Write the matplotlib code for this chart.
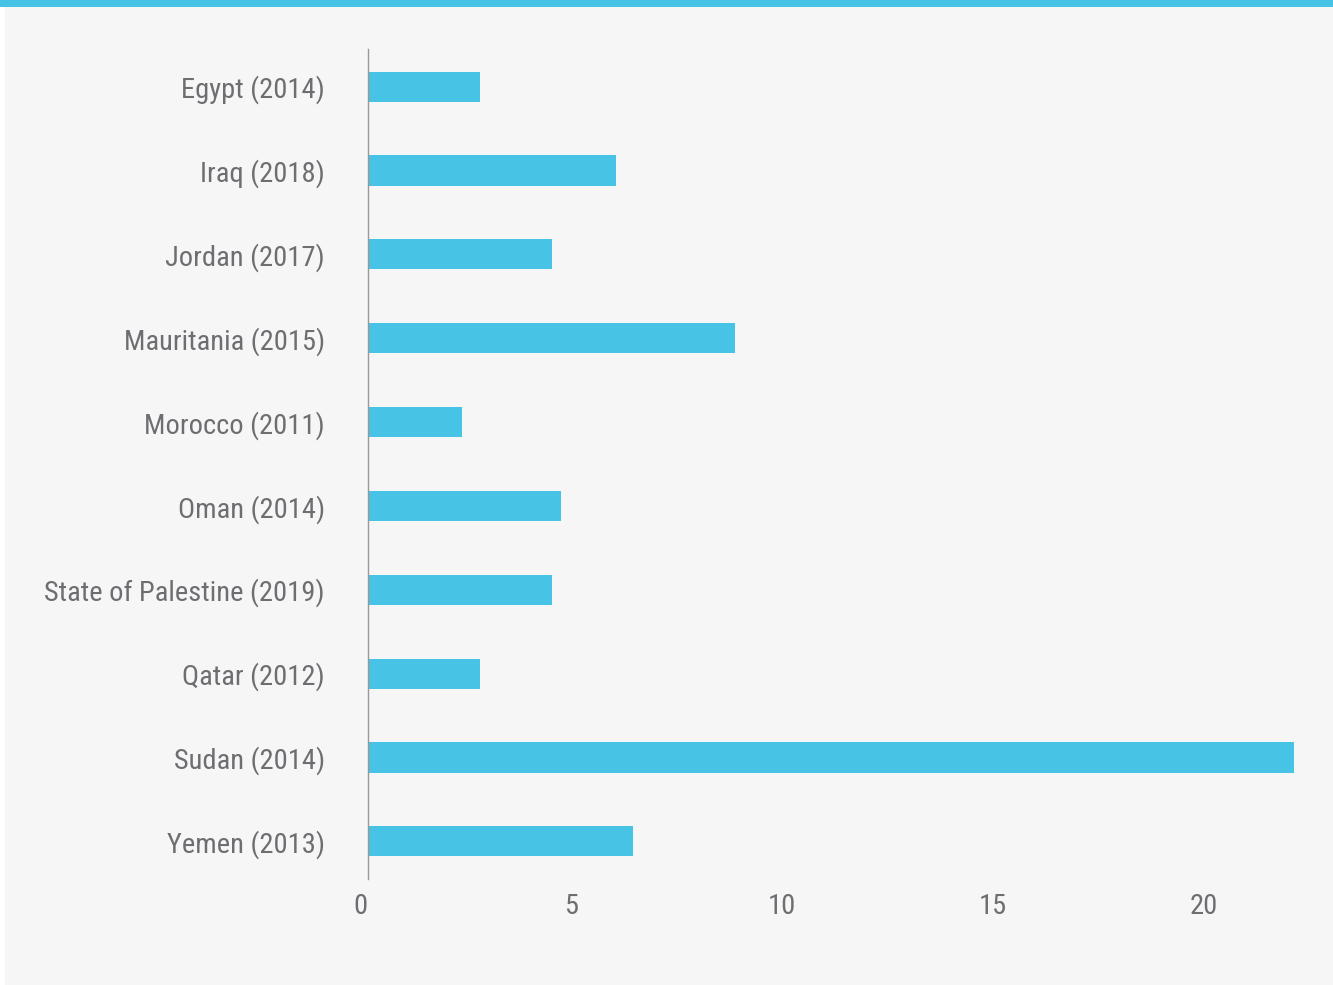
import matplotlib.pyplot as plt
import matplotlib.transforms as mtransforms
from matplotlib.patches import Rectangle

# survey results by country (year)
countries = ["Egypt (2014)", "Iraq (2018)", "Jordan (2017)", "Mauritania (2015)",
             "Morocco (2011)", "Oman (2014)", "State of Palestine (2019)",
             "Qatar (2012)", "Sudan (2014)", "Yemen (2013)"]
values = [2.65, 5.88, 4.36, 8.7, 2.23, 4.57, 4.36, 2.65, 21.94, 6.28]
xticks = [0, 5, 10, 15, 20]

plt.rcParams['font.family'] = ['Roboto Condensed', 'Roboto', 'DejaVu Sans']
plt.rcParams['font.stretch'] = 'condensed'

W, H = 1333, 985
fig = plt.figure(figsize=(W / 100, H / 100), dpi=100, facecolor='white')

# page background and top accent band
fig.patches.append(Rectangle((5 / W, 0), 1 - 5 / W, 1 - 7 / H, transform=fig.transFigure,
                             facecolor='#f6f6f6', edgecolor='none', zorder=-2))
fig.patches.append(Rectangle((0, 1 - 7 / H), 1, 7 / H, transform=fig.transFigure,
                             facecolor='#45c2e4', edgecolor='none', zorder=-2))

left, right, top, bottom = 368, 1310, 49, 879
ax = fig.add_axes([left / W, 1 - bottom / H, (right - left) / W, (bottom - top) / H])
ax.set_facecolor('none')

ypos = list(range(len(countries)))
ax.barh(ypos, values, height=0.36, color='#46c3e5', zorder=2)

ax.set_xlim(0, (right - left) / 42.2)
ax.set_ylim(len(countries) - 0.55, -0.45)

ax.set_yticks(ypos)
ax.set_yticklabels(countries, fontsize=20.5, color='#6d6e71')
ax.set_xticks(xticks)
ax.set_xticklabels([str(t) for t in xticks], fontsize=20.5, color='#6d6e71')
ax.tick_params(axis='y', length=0, pad=31)
ax.tick_params(axis='x', length=0, pad=10)

# x labels sit a little left of their ticks
shift = mtransforms.ScaledTranslation(-8 / 100, 0, fig.dpi_scale_trans)
for tick in ax.xaxis.get_major_ticks():
    tick.label1.set_transform(tick.label1.get_transform() + shift)

for s in ['top', 'right', 'bottom']:
    ax.spines[s].set_visible(False)
ax.spines['left'].set_color('#999999')
ax.spines['left'].set_linewidth(1)

fig.savefig('out.png', dpi=100, facecolor=fig.get_facecolor())
